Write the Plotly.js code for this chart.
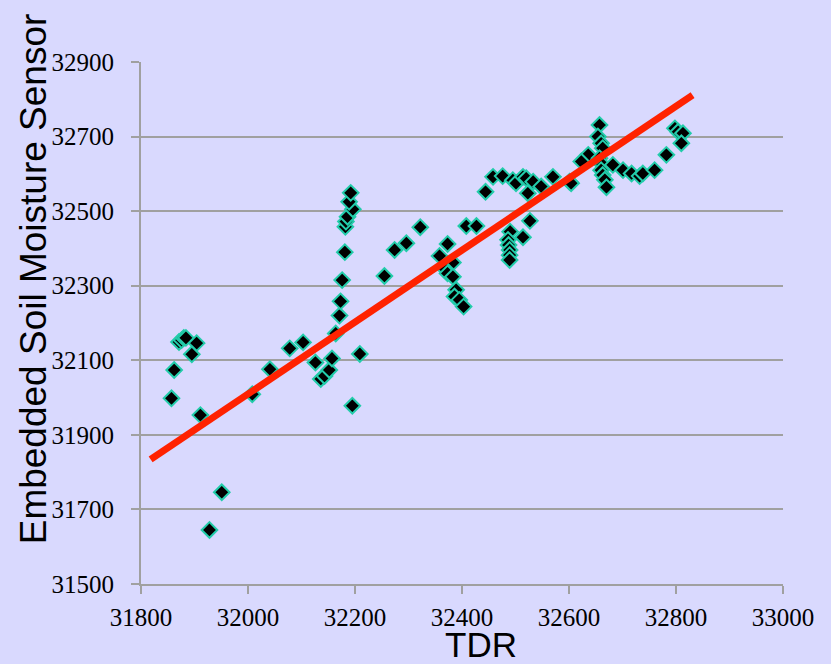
<!DOCTYPE html>
<html>
<head>
<meta charset="utf-8">
<script src="https://cdn.plot.ly/plotly-3.0.1.min.js"></script>
<style>
html,body{margin:0;padding:0;background:#D9D9FE;}
#chart{width:831px;height:664px;}
</style>
</head>
<body>
<div id="chart"></div>
<script>
const tdr = [31857,31862,31871,31876,31880,31884,31904,31895,31911,31928,31951,32008,32041,32078,32103,32126,32136,32143,32152,32157,32164,32171,32173,32176,32181,32182,32183,32186,32196,32189,32192,32209,32195,32255,32274,32296,32322,32373,32358,32383,32367,32373,32383,32389,32386,32395,32403,32408,32427,32444,32458,32476,32495,32501,32514,32520,32533,32523,32548,32570,32601,32527,32490,32514,32486,32487,32489,32489,32489,32657,32654,32660,32663,32636,32623,32604,32657,32663,32660,32663,32667,32670,32682,32701,32717,32732,32738,32760,32782,32798,32804,32813,32810];
const sensor = [31998,32074,32149,32154,32160,32160,32146,32116,31953,31645,31746,32009,32076,32132,32148,32094,32050,32058,32074,32105,32172,32220,32258,32315,32390,32458,32472,32485,32505,32525,32549,32117,31978,32326,32396,32414,32457,32412,32380,32362,32347,32333,32324,32289,32271,32262,32244,32460,32460,32552,32592,32594,32583,32575,32592,32588,32579,32548,32566,32592,32579,32474,32445,32430,32423,32409,32396,32382,32369,32731,32700,32682,32669,32651,32633,32575,32642,32624,32610,32597,32584,32564,32624,32610,32601,32594,32601,32610,32651,32722,32713,32709,32682];
const trendX = [31818, 32831];
const trendY = [31834, 32811];
const xTicks = [31800,32000,32200,32400,32600,32800,33000];
const yTicks = [31500,31700,31900,32100,32300,32500,32700,32900];
const xTitle = "TDR";
const yTitle = "Embedded Soil Moisture Sensor";

const traces = [
  {x: tdr, y: sensor, type: 'scatter', mode: 'markers',
   marker: {symbol: 'diamond', size: 12, color: '#000000', line: {color: '#22CCAA', width: 2}},
   hoverinfo: 'x+y'},
  {x: trendX, y: trendY, type: 'scatter', mode: 'lines',
   line: {color: '#FF2200', width: 7}, hoverinfo: 'skip'}
];

const layout = {
  width: 831, height: 664,
  paper_bgcolor: '#D9D9FE', plot_bgcolor: '#D9D9FE',
  showlegend: false,
  margin: {l: 141, r: 48, t: 62, b: 80, pad: 0},
  xaxis: {range: [31800, 33000], tickmode: 'array', tickvals: xTicks, ticktext: xTicks.map(String),
    showgrid: false, zeroline: false, showline: true, linecolor: '#A0A0A0', linewidth: 2,
    ticks: 'outside', ticklen: 8, tickwidth: 2, tickcolor: '#A0A0A0',
    tickfont: {family: 'Liberation Serif', size: 25, color: '#000'}, ticklabelstandoff: 2},
  yaxis: {range: [31500, 32900], tickmode: 'array', tickvals: yTicks, ticktext: yTicks.map(String),
    showgrid: true, gridcolor: '#A0A0A0', gridwidth: 2, zeroline: false,
    showline: true, linecolor: '#A0A0A0', linewidth: 2,
    ticks: 'outside', ticklen: 8, tickwidth: 2, tickcolor: '#A0A0A0',
    tickfont: {family: 'Liberation Serif', size: 25, color: '#000'}, ticklabelstandoff: 12},
  annotations: [
    {text: xTitle, xref: 'paper', yref: 'paper', x: 0.5296, y: -0.116,
     xanchor: 'center', yanchor: 'middle', showarrow: false,
     font: {family: 'Liberation Sans', size: 35, color: '#000'}},
    {text: yTitle, xref: 'paper', yref: 'paper', x: -0.168, y: 0.584, textangle: -90,
     xanchor: 'center', yanchor: 'middle', showarrow: false,
     font: {family: 'Liberation Sans', size: 37, color: '#000'}}
  ]
};
Plotly.newPlot('chart', traces, layout, {displayModeBar: false, staticPlot: true});
</script>
</body>
</html>
